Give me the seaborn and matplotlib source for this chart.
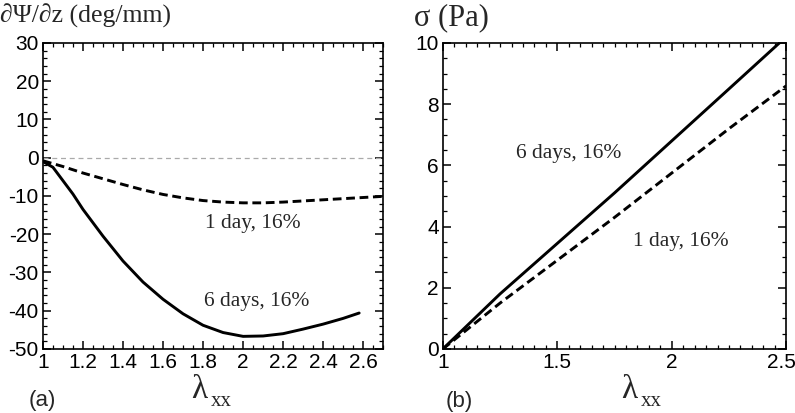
import matplotlib
matplotlib.use('Agg')
import matplotlib.pyplot as plt
import matplotlib.transforms as mtransforms
import pandas as pd
import seaborn as sns
from matplotlib.ticker import MultipleLocator

# (a) twist gradient vs stretch
lam_a = [1.0, 1.05, 1.1, 1.15, 1.2, 1.25, 1.3, 1.4, 1.5, 1.6, 1.7, 1.8, 1.9, 2.0,
         2.1, 2.2, 2.3, 2.4, 2.5, 2.58]
twist_6d = [-1.0, -2.5, -6.0, -9.5, -13.5, -17.0, -20.5, -27.0, -32.5, -37.0, -40.8,
            -43.8, -45.7, -46.7, -46.6, -46.0, -44.8, -43.5, -42.0, -40.6]
lam_a1 = [1.0, 1.1, 1.2, 1.3, 1.4, 1.5, 1.6, 1.7, 1.8, 1.9, 2.0, 2.1, 2.2, 2.3, 2.4,
          2.5, 2.6, 2.7]
twist_1d = [-0.8, -2.3, -4.0, -5.5, -7.0, -8.4, -9.6, -10.5, -11.2, -11.6, -11.8,
            -11.8, -11.6, -11.3, -11.0, -10.7, -10.4, -10.1]

# (b) stress vs stretch
lam_b = [1.0, 1.25, 1.5, 1.75, 2.0, 2.25, 2.47]
sigma_6d = [0.0, 1.8, 3.45, 5.1, 6.8, 8.5, 10.0]
lam_b1 = [1.0, 1.1, 1.25, 1.5, 1.75, 2.0, 2.25, 2.5]
sigma_1d = [0.0, 0.6, 1.5, 2.9, 4.3, 5.75, 7.2, 8.6]

sns.set_style('ticks')
plt.rcParams['font.family'] = ['Liberation Sans', 'DejaVu Sans']
plt.rcParams['axes.unicode_minus'] = False
serif = ['Liberation Serif', 'DejaVu Serif']

fig = plt.figure(figsize=(7.95, 4.13), dpi=100)
ax1 = fig.add_axes([0.054, 0.155, 0.428, 0.741])
ax2 = fig.add_axes([0.557, 0.155, 0.432, 0.741])

df_a6 = pd.DataFrame({'lam': lam_a, 'val': twist_6d})
df_a1 = pd.DataFrame({'lam': lam_a1, 'val': twist_1d})
df_b6 = pd.DataFrame({'lam': lam_b, 'val': sigma_6d})
df_b1 = pd.DataFrame({'lam': lam_b1, 'val': sigma_1d})

ax1.axhline(0, color='#aaaaaa', lw=0.9, ls=(0, (4, 3)), zorder=1)
sns.lineplot(data=df_a6, x='lam', y='val', ax=ax1, color='black', lw=2.1)
sns.lineplot(data=df_a1, x='lam', y='val', ax=ax1, color='black', lw=2.1)
ax1.lines[-1].set_dashes((3, 1.6))
sns.lineplot(data=df_b6, x='lam', y='val', ax=ax2, color='black', lw=2.1)
sns.lineplot(data=df_b1, x='lam', y='val', ax=ax2, color='black', lw=2.1)
ax2.lines[-1].set_dashes((3, 1.6))

ax1.set_xlim(1, 2.7)
ax1.set_ylim(-50, 30)
ax1.xaxis.set_minor_locator(MultipleLocator(0.05))
ax1.yaxis.set_major_locator(MultipleLocator(10))
ax1.yaxis.set_minor_locator(MultipleLocator(2))
ax1.set_xticks([1, 1.2, 1.4, 1.6, 1.8, 2, 2.2, 2.4, 2.6])
ax1.set_xticklabels(['1', '1.2', '1.4', '1.6', '1.8', '2', '2.2', '2.4', '2.6'])

ax2.set_xlim(1, 2.5)
ax2.set_ylim(0, 10)
ax2.xaxis.set_minor_locator(MultipleLocator(0.05))
ax2.yaxis.set_major_locator(MultipleLocator(2))
ax2.yaxis.set_minor_locator(MultipleLocator(0.5))
ax2.set_xticks([1, 1.5, 2, 2.5])
ax2.set_xticklabels(['1', '1.5', '2', '2.5'])

for ax in (ax1, ax2):
    ax.set_xlabel('')
    ax.set_ylabel('')
    for s in ax.spines.values():
        s.set_linewidth(1.2)
        s.set_color('black')
    ax.tick_params(which='both', direction='in', top=True, right=True,
                   colors='black', labelsize=15)
    ax.tick_params(which='major', length=6, width=1.1, pad=3)
    ax.tick_params(which='minor', length=3, width=0.9)

# keep the last tick label of (b) inside the picture
last = ax2.get_xticklabels()[-1]
last.set_horizontalalignment('right')
last.set_transform(last.get_transform() +
                   mtransforms.ScaledTranslation(10 / 100, 0, fig.dpi_scale_trans))

ax1.text(2.05, -17.2, '1 day, 16%', family=serif, fontsize=15.5, ha='center', va='center')
ax1.text(2.07, -37.6, '6 days, 16%', family=serif, fontsize=15.5, ha='center', va='center')
ax2.text(1.55, 6.4, '6 days, 16%', family=serif, fontsize=15.5, ha='center', va='center')
ax2.text(2.04, 3.5, '1 day, 16%', family=serif, fontsize=15.5, ha='center', va='center')

fig.text(0.0, 0.962, '∂Ψ/∂z (deg/mm)', family=serif, fontsize=18.5, ha='left', va='center')
fig.text(0.521, 0.958, 'σ (Pa)', family=serif, fontsize=22, ha='left', va='center')

# x-axis labels: upright serif lambda with "xx" subscript
for x0 in (0.240, 0.781):
    fig.text(x0, 0.036, 'λ', family=serif, fontsize=24, ha='left', va='baseline')
    fig.text(x0 + 0.025, 0.018, 'xx', family=serif, fontsize=15, ha='left', va='baseline')

fig.text(0.053, 0.031, '(a)', fontsize=16, ha='center', va='center')
fig.text(0.578, 0.028, '(b)', fontsize=16, ha='center', va='center')

fig.savefig('out.png', dpi=100)
